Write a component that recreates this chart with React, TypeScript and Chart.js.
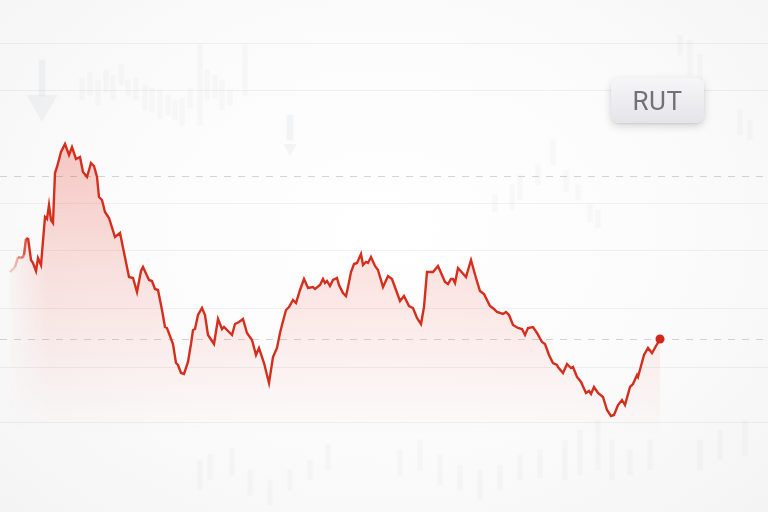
import React, { useEffect, useRef } from "react";
import Chart from "chart.js/auto";

// RUT index path (session position, index level)
const sessions = [
  10, 15, 18, 22, 24, 26, 28, 31, 33, 36, 38, 41, 45, 47, 49, 51, 53, 55, 57, 61,
  65, 69, 72, 76, 80, 83, 87, 91, 94, 97, 99, 102, 105, 109, 115, 120, 129, 133, 137, 141,
  143, 149, 152, 155, 158, 162, 165, 167, 173, 176, 178, 181, 184, 188, 191, 193, 195, 198, 202, 205,
  208, 212, 214, 218, 222, 224, 232, 235, 239, 243, 247, 252, 256, 259, 264, 269, 273, 277, 280, 282,
  286, 289, 293, 296, 300, 304, 308, 313, 315, 320, 323, 325, 327, 330, 333, 337, 339, 343, 346, 348,
  351, 354, 357, 361, 363, 366, 368, 371, 375, 378, 383, 388, 392, 400, 404, 409, 413, 417, 421, 424,
  427, 433, 438, 445, 448, 451, 453, 455, 458, 466, 471, 476, 480, 484, 490, 494, 497, 503, 506, 509,
  513, 518, 522, 525, 528, 533, 537, 542, 545, 549, 553, 557, 558, 563, 567, 571, 573, 577, 581, 586,
  589, 591, 594, 598, 603, 607, 611, 614, 618, 622, 625, 630, 633, 637, 638, 644, 648, 652, 656, 660,
];
const levels = [
  2028, 2033, 2043, 2042, 2045, 2061, 2062, 2040, 2037, 2029, 2042, 2035, 2083, 2081, 2095, 2080, 2077, 2127, 2133, 2148,
  2156, 2145, 2153, 2141, 2143, 2128, 2123, 2137, 2134, 2123, 2103, 2100, 2088, 2082, 2063, 2067, 2023, 2022, 2008, 2029,
  2033, 2020, 2019, 2011, 2010, 1990, 1973, 1972, 1956, 1937, 1935, 1927, 1926, 1938, 1956, 1970, 1971, 1985, 1992, 1985,
  1965, 1959, 1956, 1981, 1971, 1973, 1965, 1976, 1978, 1981, 1967, 1960, 1945, 1952, 1937, 1917, 1943, 1952, 1967, 1975,
  1990, 1993, 2000, 1997, 2010, 2021, 2012, 2013, 2011, 2015, 2021, 2017, 2019, 2014, 2020, 2022, 2015, 2007, 2004, 2013,
  2028, 2036, 2037, 2046, 2035, 2038, 2037, 2043, 2034, 2030, 2013, 2024, 2021, 1999, 2004, 1994, 1992, 1982, 1976, 1993,
  2028, 2028, 2034, 2018, 2016, 2021, 2021, 2017, 2032, 2023, 2040, 2022, 2009, 2006, 1994, 1991, 1988, 1986, 1988, 1985,
  1975, 1972, 1971, 1965, 1972, 1973, 1967, 1958, 1956, 1945, 1937, 1935, 1933, 1927, 1936, 1932, 1933, 1923, 1918, 1907,
  1909, 1906, 1913, 1907, 1903, 1890, 1884, 1885, 1895, 1900, 1895, 1913, 1916, 1925, 1923, 1945, 1952, 1947, 1954, 1961,
];

// reference levels
const gridLevels = [2257, 2210, 2097, 2050, 1992, 1933, 1878];
const dashedLevels = [2124, 1961];

// faint background candles
const candleSessions = [
  82, 90, 98, 106, 113, 121, 128, 136, 145, 152, 160, 168, 175, 182, 190, 200, 207, 215, 222, 230, 245,
  495, 512, 520, 538, 553, 566, 578, 590, 598,
  680, 690, 700, 740, 750,
  200, 210, 232, 250, 270, 290, 310, 328, 400, 420, 440, 460, 480, 500, 520, 540, 565, 580, 598, 612, 630, 650, 700, 720, 745,
];
const candleHigh = [
  2222, 2228, 2220, 2230, 2225, 2235, 2220, 2222, 2215, 2212, 2210, 2205, 2200, 2202, 2212, 2255, 2230, 2225, 2220, 2210, 2255,
  2105, 2115, 2125, 2135, 2160, 2130, 2115, 2095, 2090,
  2265, 2260, 2245, 2190, 2180,
  1840, 1845, 1852, 1830, 1820, 1830, 1840, 1855, 1850, 1860, 1845, 1835, 1830, 1835, 1845, 1850, 1860, 1870, 1880, 1860, 1850, 1860, 1860, 1870, 1880,
];
const candleLow = [
  2200, 2205, 2195, 2208, 2200, 2215, 2205, 2200, 2190, 2188, 2182, 2185, 2180, 2175, 2192, 2175, 2200, 2202, 2190, 2195, 2205,
  2088, 2090, 2100, 2115, 2135, 2108, 2100, 2078, 2072,
  2245, 2225, 2220, 2165, 2160,
  1810, 1820, 1825, 1805, 1795, 1810, 1820, 1830, 1825, 1830, 1815, 1810, 1800, 1810, 1820, 1822, 1820, 1825, 1830, 1820, 1825, 1830, 1830, 1840, 1845,
];

// faint down arrows
const arrowSessions = [42, 290];
const arrowShaftTop = [2240, 2185];
const arrowShaftBottom = [2204, 2160];
const arrowHeadLevel = [2196, 2152];
const arrowHeadSize = [18, 8];
const arrowShaftWidth = [14, 6];

const SESSION_MIN = 0;
const SESSION_MAX = 768;
const LEVEL_MIN = 1788;
const LEVEL_MAX = 2300;

const gridPlugin = {
  id: "refLines",
  beforeDatasetsDraw(chart: any) {
    const { ctx, chartArea, scales } = chart;
    const ys = scales.y;
    ctx.save();
    ctx.lineWidth = 1;
    ctx.strokeStyle = "rgba(0,0,0,0.05)";
    gridLevels.forEach((v) => {
      const y = Math.round(ys.getPixelForValue(v)) + 0.5;
      ctx.beginPath();
      ctx.moveTo(chartArea.left, y);
      ctx.lineTo(chartArea.right, y);
      ctx.stroke();
    });
    ctx.strokeStyle = "rgba(0,0,0,0.16)";
    ctx.setLineDash([7, 7]);
    dashedLevels.forEach((v) => {
      const y = Math.round(ys.getPixelForValue(v)) + 0.5;
      ctx.beginPath();
      ctx.moveTo(chartArea.left, y);
      ctx.lineTo(chartArea.right, y);
      ctx.stroke();
    });
    ctx.restore();
  },
};

const fadeAlpha = [0.25, 0.35, 0.5, 0.65, 0.8, 0.92];

let fillPattern: any = null;
function makeFill(chart: any) {
  if (fillPattern) return fillPattern;
  const xs = chart.scales.x;
  const ys = chart.scales.y;
  const w = chart.width;
  const h = chart.height;
  const off = document.createElement("canvas");
  off.width = w;
  off.height = h;
  const c = off.getContext("2d")!;
  const g = c.createLinearGradient(0, ys.getPixelForValue(2165), 0, ys.getPixelForValue(1865));
  g.addColorStop(0, "rgba(234,74,58,0.30)");
  g.addColorStop(0.45, "rgba(234,74,58,0.15)");
  g.addColorStop(1, "rgba(234,74,58,0)");
  c.fillStyle = g;
  c.fillRect(0, 0, w, h);
  c.globalCompositeOperation = "destination-out";
  const hg = c.createLinearGradient(xs.getPixelForValue(8), 0, xs.getPixelForValue(48), 0);
  hg.addColorStop(0, "rgba(0,0,0,0.85)");
  hg.addColorStop(1, "rgba(0,0,0,0)");
  c.fillStyle = hg;
  c.fillRect(0, 0, w, h);
  fillPattern = chart.ctx.createPattern(off, "no-repeat");
  return fillPattern;
}

export default function App() {
  const ref = useRef<HTMLCanvasElement | null>(null);

  useEffect(() => {
    if (!ref.current) return;
    fillPattern = null;
    const last = sessions.length - 1;
    const chart = new Chart(ref.current, {
      type: "line",
      data: {
        datasets: [
          {
            type: "line",
            label: "RUT",
            data: sessions.map((s, i) => ({ x: s, y: levels[i] })),
            borderColor: "#d62e1d",
            borderWidth: 2.4,
            tension: 0,
            fill: "start",
            segment: {
              borderColor: (c: any) =>
                c.p0DataIndex < fadeAlpha.length ? `rgba(214,46,29,${fadeAlpha[c.p0DataIndex]})` : undefined,
            },
            backgroundColor: (c: any) => {
              const chart = c.chart;
              if (!chart.chartArea) return "rgba(0,0,0,0)";
              return makeFill(chart);
            },
            pointRadius: (c: any) => (c.dataIndex === last ? 4.5 : 0),
            pointBackgroundColor: "#d02818",
            pointBorderWidth: 0,
            order: 0,
          } as any,
          {
            type: "bar",
            label: "candles",
            data: candleSessions.map((s, i) => ({ x: s, y: [candleLow[i], candleHigh[i]] })),
            backgroundColor: "rgba(120,122,130,0.04)",
            barThickness: 5,
            grouped: false,
            order: 3,
          } as any,
          {
            type: "bar",
            label: "arrowShaft",
            data: arrowSessions.map((s, i) => ({ x: s, y: [arrowShaftBottom[i], arrowShaftTop[i]] })),
            backgroundColor: "rgba(120,125,135,0.07)",
            barThickness: (c: any) => arrowShaftWidth[c.dataIndex] ?? 6,
            grouped: false,
            order: 2,
          } as any,
          {
            type: "scatter",
            label: "arrowHead",
            data: arrowSessions.map((s, i) => ({ x: s, y: arrowHeadLevel[i] })),
            pointStyle: "triangle",
            rotation: 180,
            pointRadius: (c: any) => arrowHeadSize[c.dataIndex] ?? 8,
            backgroundColor: "rgba(120,125,135,0.07)",
            borderWidth: 0,
            showLine: false,
            order: 2,
          } as any,
        ],
      },
      options: {
        responsive: false,
        animation: false,
        layout: { padding: 0, autoPadding: false },
        plugins: { legend: { display: false }, tooltip: { enabled: false } },
        events: [],
        scales: {
          x: { type: "linear", min: SESSION_MIN, max: SESSION_MAX, display: false, offset: false },
          y: { type: "linear", min: LEVEL_MIN, max: LEVEL_MAX, display: false },
        },
      },
      plugins: [gridPlugin],
    } as any);
    return () => chart.destroy();
  }, []);

  return (
    <div
      style={{
        position: "fixed",
        left: 0,
        top: 0,
        width: 768,
        height: 512,
        overflow: "hidden",
        background: "radial-gradient(ellipse at 50% 45%, #ffffff 0%, #fbfbfb 55%, #f4f4f4 100%)",
      }}
    >
      <canvas ref={ref} width={768} height={512} style={{ display: "block", width: 768, height: 512 }} />
      <div
        style={{
          position: "absolute",
          left: 611,
          top: 78,
          width: 93,
          height: 45,
          borderRadius: 8,
          background: "linear-gradient(180deg, #f6f6f8 0%, #e5e5e9 100%)",
          boxShadow: "0 3px 8px rgba(0,0,0,0.16), 0 1px 2px rgba(0,0,0,0.08)",
          display: "flex",
          alignItems: "center",
          justifyContent: "center",
          fontFamily: "Roboto, Inter, 'Noto Sans', sans-serif",
          fontSize: 26,
          color: "#727276",
          letterSpacing: 0.5,
        }}
      >
        RUT
      </div>
    </div>
  );
}
